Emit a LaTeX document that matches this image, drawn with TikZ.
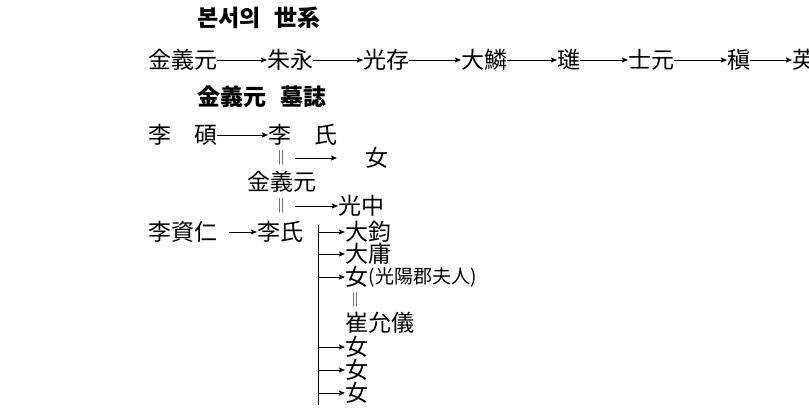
\documentclass[tikz,border=0pt]{standalone}
\usepackage{fontspec}
\setmainfont{Noto Sans CJK KR}
\usepackage{tikz}
\usetikzlibrary{arrows.meta}

\begin{document}
\begin{tikzpicture}[x=1pt, y=-1pt,
	person/.style={inner sep=0pt, anchor=west, font=\fontsize{23}{24}\selectfont},
	heading/.style={inner sep=0pt, anchor=west, font=\bfseries\fontsize{23}{24}\selectfont},
	marry/.style={inner sep=0pt, font=\fontsize{14}{14}\selectfont},
	arr/.style={line width=0.9pt, -{Stealth[length=6pt, width=5pt, inset=1pt]}}]
	\useasboundingbox (0,0) rectangle (809,408);
	% Headings
	\node[heading] (hsege) at (197,18) {본서의\hspace{0.6em}世系};
	\node[heading] (hmyoji) at (197,97) {金義元\hspace{0.6em}墓誌};
	% Line of the Bonseo
	\node[person] (k0) at (148,60) {金義元};
	\node[person] (k1) at (267,60) {朱永};
	\node[person] (k2) at (363,60) {光存};
	\node[person] (k3) at (461,60) {大鱗};
	\node[person] (k4) at (557,60) {璡};
	\node[person] (k5) at (628,60) {士元};
	\node[person] (k6) at (727,60) {稹};
	\node[person] (k7) at (792,60) {英};
	\foreach \a/\b in {k0/k1, k1/k2, k2/k3, k3/k4, k4/k5, k5/k6, k6/k7}
		\draw[arr] (\a) -- (\b);
	% Family from the epitaph
	\node[person] (leeseok) at (148,135) {李　碩};
	\node[person] (leessi) at (268,135) {李　氏};
	\draw[arr] (leeseok) -- (leessi);
	\node[marry] (m1) at (281,158) {$\|$};
	\node[person] (dau0) at (365,158) {女};
	\draw[arr, shorten <=10pt, shorten >=28pt] (m1) -- (dau0);
	\node[person] (kim) at (247,182) {金義元};
	\node[marry] (m2) at (281,206) {$\|$};
	\node[person] (gwangjung) at (338,206) {光中};
	\draw[arr, shorten <=10pt] (m2) -- (gwangjung);
	\node[person] (leejain) at (148,232) {李資仁};
	\node[person] (leessi2) at (257,232) {李氏};
	\draw[arr, shorten <=12pt] (leejain) -- (leessi2);
	% Children
	\coordinate (bartop) at (318,225);
	\coordinate (barbot) at (318,405);
	\draw[line width=0.9pt] (bartop) -- (barbot);
	\node[person] (c1) at (345,232) {大鈞};
	\node[person] (c2) at (345,254) {大庸};
	\node[person] (c3) at (345,277) {女};
	\node[inner sep=0pt, anchor=west, font=\fontsize{19}{20}\selectfont] (c3t) at (c3.east) {(光陽郡夫人)};
	\node[marry] (m3) at (355,300) {$\|$};
	\node[person] (choe) at (345,323) {崔允儀};
	\node[person] (c5) at (345,347) {女};
	\node[person] (c6) at (345,370) {女};
	\node[person] (c7) at (345,393) {女};
	\foreach \c in {c1, c2, c3, c5, c6, c7}
		\draw[arr] (\c -| bartop) -- (\c);
\end{tikzpicture}
\end{document}
